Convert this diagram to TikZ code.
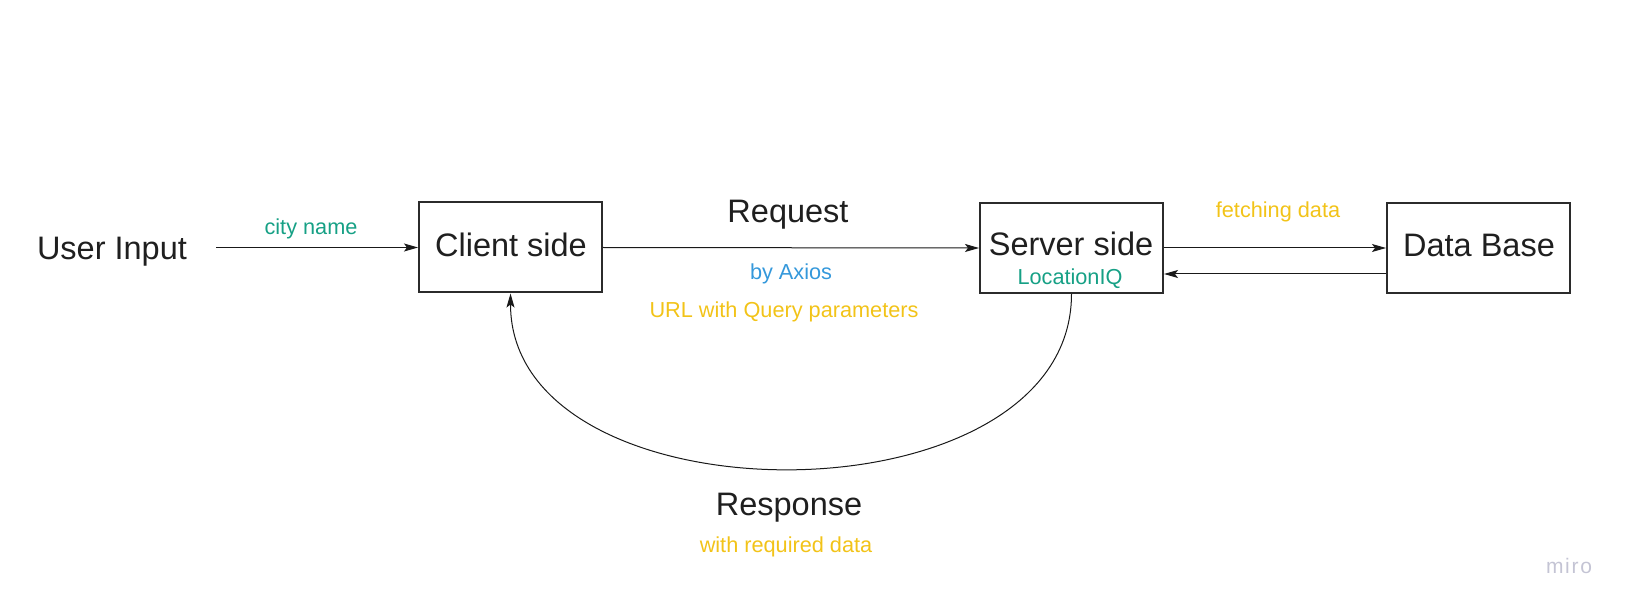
\documentclass[tikz,border=0pt]{standalone}
\usepackage{fontspec}
\setmainfont{Liberation Sans}
\usetikzlibrary{arrows.meta}
\definecolor{tealc}{HTML}{16A085}
\definecolor{bluec}{HTML}{3498DB}
\definecolor{yellowc}{HTML}{F2C318}
\definecolor{miroc}{RGB}{196,196,212}
\definecolor{boxc}{HTML}{2B2B2B}
\begin{document}
\begin{tikzpicture}[x=1pt,y=-1pt,
  box/.style={draw=boxc,line width=2pt,minimum width=183pt,minimum height=90pt,inner sep=0pt},
  big/.style={font=\fontsize{32.5}{39}\selectfont,text=black!88,inner sep=0pt,anchor=base},
  small/.style={font=\fontsize{21.7}{26}\selectfont,inner sep=0pt,anchor=base},
  arr/.style={draw=black!90,line width=1pt,-{Stealth[length=14pt,width=8pt,inset=3pt]}}]
\useasboundingbox (0,0) rectangle (1633,612);
% boxes
\node[box] (client) at (510.5,247.5) {};
\node[box] (server) at (1071.5,248) {};
\node[box] (db) at (1478.5,248) {};
% texts
\node[big] (user) at (112,260) {User Input};
\node[big] (clientt) at (511,257) {Client side};
\node[big] (servert) at (1071,256) {Server side};
\node[small,text=tealc] (loc) at (1070,285) {LocationIQ};
\node[big] (dbt) at (1479,257) {Data Base};
\node[small,text=tealc] (city) at (311,235) {city name};
\node[big] (req) at (788,223) {Request};
\node[small,text=bluec] (axios) at (791,280) {by Axios};
\node[small,text=yellowc] (url) at (784,317) {URL with Query parameters};
\node[small,text=yellowc] (fetch) at (1278,218) {fetching data};
\node[big] (resp) at (789,515) {Response};
\node[small,text=yellowc] (withd) at (786,552) {with required data};
\node[font=\fontsize{21}{24}\selectfont\addfontfeatures{LetterSpace=8},text=miroc,inner sep=0pt,anchor=base] (miro) at (1569,573) {miro};
% connectors
\coordinate (ustart) at (216,247.5);
\draw[arr] (ustart) -- (client.west);
\draw[arr] (client.east) -- (server.west);
\draw[arr] (server.east) -- (db.west);
\draw[arr] ([yshift=-26pt]db.west) -- ([yshift=-26pt]server.east);
\draw[arr] (server.south) .. controls +(0,233) and +(0,233) .. (client.south);
\end{tikzpicture}
\end{document}
